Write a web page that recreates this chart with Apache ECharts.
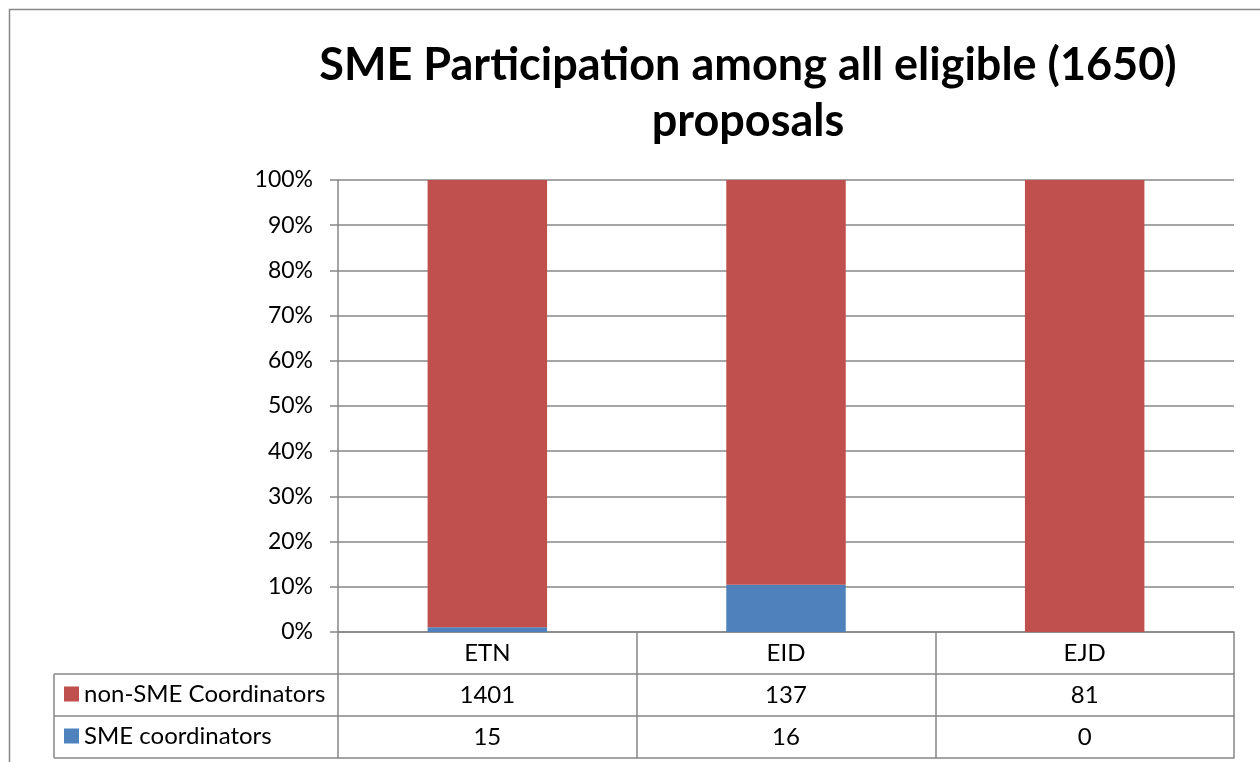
<!DOCTYPE html>
<html>
<head>
<meta charset="utf-8">
<script src="https://cdn.jsdelivr.net/npm/echarts@6/dist/echarts.min.js"></script>
<style>
  html, body { margin: 0; padding: 0; background: #fff; }
  #chart { width: 1260px; height: 762px; }
</style>
</head>
<body>
<div id="chart"></div>
<script>
// data
const categories = ['ETN', 'EID', 'EJD']
const nonSmeCoordinators = [1401, 137, 81]
const smeCoordinators = [15, 16, 0]
const seriesNames = ['non-SME Coordinators', 'SME coordinators']
const yTicks = [0, 10, 20, 30, 40, 50, 60, 70, 80, 90, 100]

// share of each column (100% stacked)
const totals = categories.map((c, i) => nonSmeCoordinators[i] + smeCoordinators[i])
const smeShare = smeCoordinators.map((v, i) => v / totals[i] * 100)
const nonSmeShare = nonSmeCoordinators.map((v, i) => v / totals[i] * 100)

const FONT = 'Lato'
const GRID_COLOR = '#878787'
const RED = '#C0504D'
const BLUE = '#4F81BD'

// one category axis per table row, stacked under the plot
const tableAxis = function (offset, labels, showTick) {
  return {
    type: 'category',
    data: categories,
    position: 'bottom',
    offset: offset,
    axisLine: { show: true, lineStyle: { color: GRID_COLOR, width: 1.5 } },
    axisTick: { show: showTick, length: 42, lineStyle: { color: GRID_COLOR, width: 1.5 } },
    axisLabel: {
      show: labels !== null,
      margin: 9,
      fontFamily: FONT,
      fontSize: 24,
      lineHeight: 24,
      color: '#000',
      formatter: function (v, i) { return labels ? String(labels[i]) : '' }
    },
    splitLine: { show: false }
  }
}

const chart = echarts.init(document.getElementById('chart'))

const options = {
  animation: false,
  backgroundColor: '#fff',
  title: {
    text: 'SME Participation among all eligible (1650)\nproposals',
    left: 743,
    textAlign: 'center',
    top: 32,
    textStyle: {
      fontFamily: FONT,
      fontWeight: 'bold',
      fontSize: 45,
      lineHeight: 56,
      color: '#000'
    }
  },
  legend: {
    data: seriesNames,
    orient: 'vertical',
    left: 64,
    top: 682,
    padding: 0,
    itemWidth: 15,
    itemHeight: 15,
    itemGap: 18,
    icon: 'rect',
    textStyle: { fontFamily: FONT, fontSize: 24, lineHeight: 24, color: '#000' }
  },
  grid: {
    left: 338,
    right: 26,
    top: 180,
    bottom: 130,
    containLabel: false
  },
  xAxis: [
    tableAxis(0, categories, true),
    tableAxis(42, nonSmeCoordinators, true),
    tableAxis(84, smeCoordinators, true),
    tableAxis(126, null, false)
  ],
  yAxis: {
    type: 'value',
    min: yTicks[0],
    max: yTicks[yTicks.length - 1],
    interval: 10,
    axisLine: { show: true, lineStyle: { color: GRID_COLOR, width: 1.5 } },
    axisTick: { show: true, length: 8, lineStyle: { color: GRID_COLOR, width: 1.5 } },
    splitLine: { show: true, lineStyle: { color: GRID_COLOR, width: 1.5 } },
    axisLabel: {
      margin: 25,
      fontFamily: FONT,
      fontSize: 23,
      color: '#000',
      formatter: '{value}%'
    }
  },
  series: [
    {
      name: seriesNames[1],
      type: 'bar',
      stack: 'total',
      barWidth: '40%',
      data: smeShare,
      itemStyle: { color: BLUE }
    },
    {
      name: seriesNames[0],
      type: 'bar',
      stack: 'total',
      barWidth: '40%',
      data: nonSmeShare,
      itemStyle: { color: RED }
    }
  ],
  graphic: [
    // outer chart frame
    { type: 'rect', shape: { x: 9.5, y: 9.5, width: 1300, height: 800 }, style: { fill: null, stroke: GRID_COLOR, lineWidth: 1.5 }, silent: true },
    // legend column of the data table
    { type: 'line', shape: { x1: 54, y1: 674, x2: 338, y2: 674 }, style: { stroke: GRID_COLOR, lineWidth: 1.5 } },
    { type: 'line', shape: { x1: 54, y1: 716, x2: 338, y2: 716 }, style: { stroke: GRID_COLOR, lineWidth: 1.5 } },
    { type: 'line', shape: { x1: 54, y1: 758, x2: 338, y2: 758 }, style: { stroke: GRID_COLOR, lineWidth: 1.5 } },
    { type: 'line', shape: { x1: 54, y1: 674, x2: 54, y2: 758 }, style: { stroke: GRID_COLOR, lineWidth: 1.5 } }
  ]
}

chart.setOption(options)

window.addEventListener('resize', function () {
  chart.resize()
})
</script>
</body>
</html>
